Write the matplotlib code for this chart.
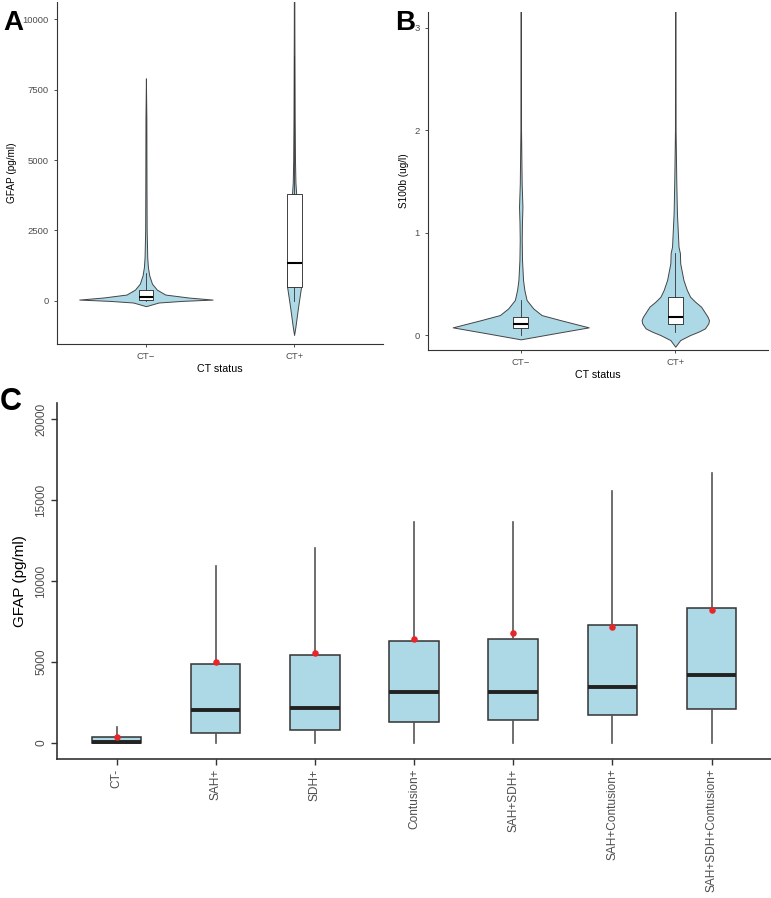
import matplotlib
matplotlib.use("Agg")
import matplotlib.pyplot as plt
import numpy as np

plt.rcParams['font.family'] = ['Liberation Sans', 'DejaVu Sans']

# ---- panel A: GFAP violins (profile: value, half width)
gfap_neg_val = [-187, -57, 0, 47, 120, 225, 400, 612, 907, 1200, 1553, 2500, 4000, 6500, 7900]
gfap_neg_hw = [0, 0.086, 0.243, 0.45, 0.288, 0.131, 0.074, 0.041, 0.0225, 0.0135, 0.009, 0.005, 0.004, 0.003, 0]
gfap_pos_val = [-1210, -917, -211, 494, 1000, 2000, 3000, 3800, 4200, 5000, 6500, 9500, 11000]
gfap_pos_hw = [0, 0.009, 0.027, 0.047, 0.045, 0.035, 0.022, 0.014, 0.009, 0.006, 0.004, 0.002, 0.0015]
gfap_q1 = [25, 494]
gfap_med = [142, 1341]
gfap_q3 = [400, 3790]
gfap_lo = [0, 0]
gfap_hi = [1000, 8700]

# ---- panel B: S100b violins
s100_neg_val = [-0.042, 0.017, 0.075, 0.146, 0.195, 0.26, 0.342, 0.44, 0.537, 0.73, 0.93, 1.1, 1.25, 1.48, 2.0, 3.2]
s100_neg_hw = [0, 0.22, 0.44, 0.256, 0.135, 0.081, 0.038, 0.0235, 0.015, 0.0085, 0.0064, 0.008, 0.011, 0.006, 0.002, 0.0015]
s100_pos_val = [-0.114, -0.049, 0.0, 0.033, 0.065, 0.114, 0.146, 0.179, 0.228, 0.277, 0.326, 0.374,
                0.44, 0.537, 0.70, 0.80, 0.862, 1.19, 1.51, 2.0, 3.2]
s100_pos_hw = [0, 0.032, 0.096, 0.15, 0.192, 0.214, 0.218, 0.209, 0.188, 0.167, 0.128, 0.096,
               0.075, 0.053, 0.032, 0.03, 0.021, 0.0107, 0.0064, 0.002, 0.0015]
s100_q1 = [0.065, 0.104]
s100_med = [0.104, 0.175]
s100_q3 = [0.173, 0.376]
s100_lo = [0.0, 0.033]
s100_hi = [0.34, 0.80]

ct_labels = ["CT\u2212", "CT+"]

# ---- panel C: GFAP by lesion type
lesions = ['CT-', 'SAH+', 'SDH+', 'Contusion+', 'SAH+SDH+', 'SAH+Contusion+', 'SAH+SDH+Contusion+']
c_q1 = [10, 618, 785, 1300, 1440, 1730, 2100]
c_med = [60, 2020, 2180, 3110, 3110, 3480, 4220]
c_q3 = [390, 4860, 5400, 6285, 6410, 7270, 8320]
c_lo = [0, 0, 0, 0, 0, 0, 0]
c_hi = [970, 10940, 12030, 13640, 13640, 15555, 16645]
c_mean = [370, 4965, 5540, 6430, 6780, 7130, 8220]

VIOLIN = '#add8e6'
EDGE = '#333333'
TXT = '#4d4d4d'


def style_axis(ax, lw=0.8):
    for s in ['top', 'right']:
        ax.spines[s].set_visible(False)
    for s in ['left', 'bottom']:
        ax.spines[s].set_color(EDGE)
        ax.spines[s].set_linewidth(lw)
    ax.tick_params(colors=EDGE, length=2.5, width=0.6, labelcolor=TXT)


def stats(q1, med, q3, lo, hi):
    return [dict(q1=a, med=b, q3=c, whislo=d, whishi=e, fliers=[])
            for a, b, c, d, e in zip(q1, med, q3, lo, hi)]


def violin_panel(ax, profiles, q1, med, q3, lo, hi):
    for i, (vals, hw) in enumerate(profiles):
        pos = i + 1
        vals = np.array(vals)
        hw = np.array(hw)
        ax.fill_betweenx(vals, pos - hw, pos + hw, facecolor=VIOLIN,
                         edgecolor='#444444', linewidth=0.7, zorder=1)
    ax.bxp(stats(q1, med, q3, lo, hi), positions=[1, 2], widths=0.1,
           showfliers=False, showcaps=False, patch_artist=True,
           boxprops=dict(facecolor='white', edgecolor='#222222', linewidth=0.6),
           medianprops=dict(color='black', linewidth=1.5),
           whiskerprops=dict(color='#333333', linewidth=0.6), zorder=2)
    ax.set_xlim(0.4, 2.6)
    ax.set_xticks([1, 2])
    ax.set_xticklabels(ct_labels, fontsize=6.8)
    ax.set_xlabel("CT status", fontsize=7.7, labelpad=2)
    style_axis(ax)


fig = plt.figure(figsize=(7.71, 8.98), dpi=100)

# A
axA = fig.add_axes([57 / 771, 1 - 344 / 898, 326 / 771, 342 / 898])
violin_panel(axA, [(gfap_neg_val, gfap_neg_hw), (gfap_pos_val, gfap_pos_hw)],
             gfap_q1, gfap_med, gfap_q3, gfap_lo, gfap_hi)
axA.set_ylim(-1530, 10610)
axA.set_yticks([0, 2500, 5000, 7500, 10000])
axA.tick_params(axis='y', labelsize=6.8)
axA.set_ylabel("GFAP (pg/ml)", fontsize=7.2, labelpad=4)

# B
axB = fig.add_axes([428 / 771, 1 - 350 / 898, 340 / 771, 338 / 898])
violin_panel(axB, [(s100_neg_val, s100_neg_hw), (s100_pos_val, s100_pos_hw)],
             s100_q1, s100_med, s100_q3, s100_lo, s100_hi)
axB.set_ylim(-0.146, 3.153)
axB.set_yticks([0, 1, 2, 3])
axB.tick_params(axis='y', labelsize=6.8)
axB.set_ylabel("S100b (ug/l)", fontsize=7.2, labelpad=4)

# C
axC = fig.add_axes([57 / 771, 1 - 759 / 898, 714 / 771, 356 / 898])
pos = np.arange(1, len(lesions) + 1)
axC.bxp(stats(c_q1, c_med, c_q3, c_lo, c_hi), positions=pos, widths=0.5,
        showfliers=False, showcaps=False, patch_artist=True,
        boxprops=dict(facecolor=VIOLIN, edgecolor='#333333', linewidth=1.1),
        medianprops=dict(color='#222222', linewidth=2.8),
        whiskerprops=dict(color='#555555', linewidth=1.2), zorder=2)
axC.scatter(pos, c_mean, s=22, color='#e8262a', zorder=4, linewidths=0)
axC.set_xlim(0.4, 7.6)
axC.set_ylim(-1000, 21000)
axC.set_xticks(pos)
axC.set_xticklabels(lesions, rotation=90, fontsize=8.6, va='top', ha='center')
axC.set_yticks([0, 5000, 10000, 15000, 20000])
axC.set_yticklabels(['0', '5000', '10000', '15000', '20000'], rotation=90,
                    va='center', fontsize=8.6)
axC.set_ylabel("GFAP (pg/ml)", fontsize=11, labelpad=6)
style_axis(axC, lw=1.2)
axC.tick_params(length=4, width=1, pad=3)
axC.tick_params(axis='x', pad=3)

fig.text(3 / 771, 1 - 30 / 898, "A", fontsize=20, fontweight='bold', va='baseline')
fig.text(395 / 771, 1 - 30 / 898, "B", fontsize=20, fontweight='bold', va='baseline')
fig.text(0 / 771, 1 - 410 / 898, "C", fontsize=22, fontweight='bold', va='baseline')

fig.savefig("out.png", dpi=100)
